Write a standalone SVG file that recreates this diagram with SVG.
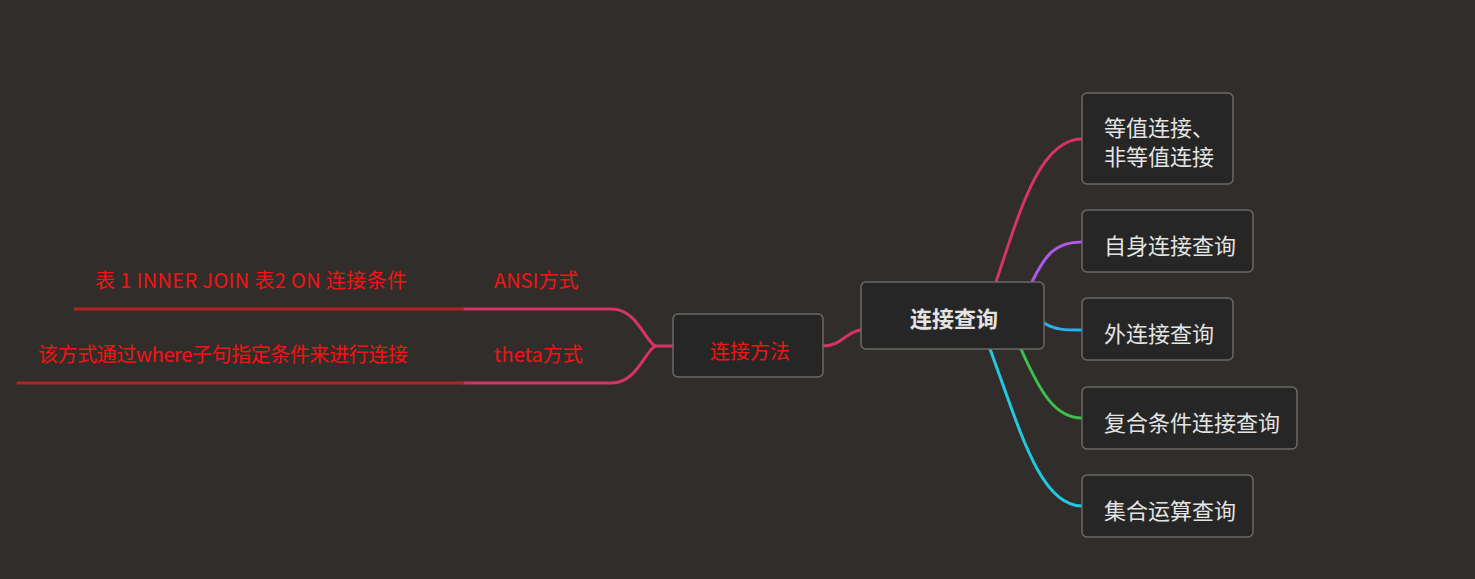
<svg xmlns="http://www.w3.org/2000/svg" width="1475" height="579" viewBox="0 0 1475 579">
<style>
.node rect{fill:#262626;stroke:#6b6966;stroke-width:1.5}
.lt{font-family:"Microsoft YaHei","Noto Sans CJK SC","Noto Sans",sans-serif;fill:#e4e4e4;font-size:22px}
.red{font-family:"Microsoft YaHei","Noto Sans CJK SC","Noto Sans",sans-serif;fill:#f21414;font-size:20px}
.c{fill:none;stroke-width:3;stroke-linecap:round}
</style>
<rect width="1475" height="579" fill="#312d2a"/>
<g id="connectors">
<path class="c" stroke="#d6336a" d="M996,282 C1020,210 1040,139 1082,139"/>
<path class="c" stroke="#b058e8" d="M1032,282 C1045,255 1055,242 1082,242"/>
<path class="c" stroke="#2ab0f2" d="M1044,323 C1055,330 1065,330 1082,330"/>
<path class="c" stroke="#3ec050" d="M1021,349 C1040,392 1055,418 1082,418"/>
<path class="c" stroke="#22c8e2" d="M990,349 C1020,430 1040,506 1082,506"/>
<path class="c" stroke="#d6336a" d="M861,330 C845,332 842,346 823,346"/>
<path class="c" stroke="#d6336a" d="M673,346 L655,346"/>
<path class="c" stroke="#d6336a" d="M655,346 C645,340 636,309 612,309 L463,309"/>
<path class="c" stroke="#d6336a" d="M655,346 C645,352 636,383 612,383 L463,383"/>
<path class="c" stroke="#b02426" d="M463,309 L75,309"/>
<path class="c" stroke="#b02426" d="M463,383 L18,383"/>
</g>
<g id="n-center" class="node">
<rect x="861" y="282" width="183" height="67" rx="5"/>
<text class="lt" x="954" y="327" text-anchor="middle" font-weight="bold" font-size="26">连接查询</text>
</g>
<g id="n-method" class="node">
<rect x="673" y="314" width="150" height="63" rx="5"/>
<text class="red" x="750" y="359" text-anchor="middle" font-size="24">连接方法</text>
</g>
<g id="n-eq" class="node">
<rect x="1082" y="93" width="151" height="91" rx="5"/>
<text class="lt" x="1104" y="136">等值连接、</text>
<text class="lt" x="1104" y="165">非等值连接</text>
</g>
<g id="n-self" class="node">
<rect x="1082" y="210" width="171" height="62" rx="5"/>
<text class="lt" x="1104" y="254">自身连接查询</text>
</g>
<g id="n-outer" class="node">
<rect x="1082" y="298" width="151" height="62" rx="5"/>
<text class="lt" x="1104" y="342">外连接查询</text>
</g>
<g id="n-compound" class="node">
<rect x="1082" y="387" width="215" height="62" rx="5"/>
<text class="lt" x="1104" y="431">复合条件连接查询</text>
</g>
<g id="n-set" class="node">
<rect x="1082" y="475" width="171" height="62" rx="5"/>
<text class="lt" x="1104" y="519">集合运算查询</text>
</g>
<g id="n-ansi">
<text class="red" x="494" y="288">ANSI方式</text>
<text class="red" x="95" y="288" textLength="312" lengthAdjust="spacing">表 1 INNER JOIN 表2 ON 连接条件</text>
</g>
<g id="n-theta">
<text class="red" x="494" y="362">theta方式</text>
<text class="red" x="38" y="362" textLength="370" lengthAdjust="spacing">该方式通过where子句指定条件来进行连接</text>
</g>
</svg>
